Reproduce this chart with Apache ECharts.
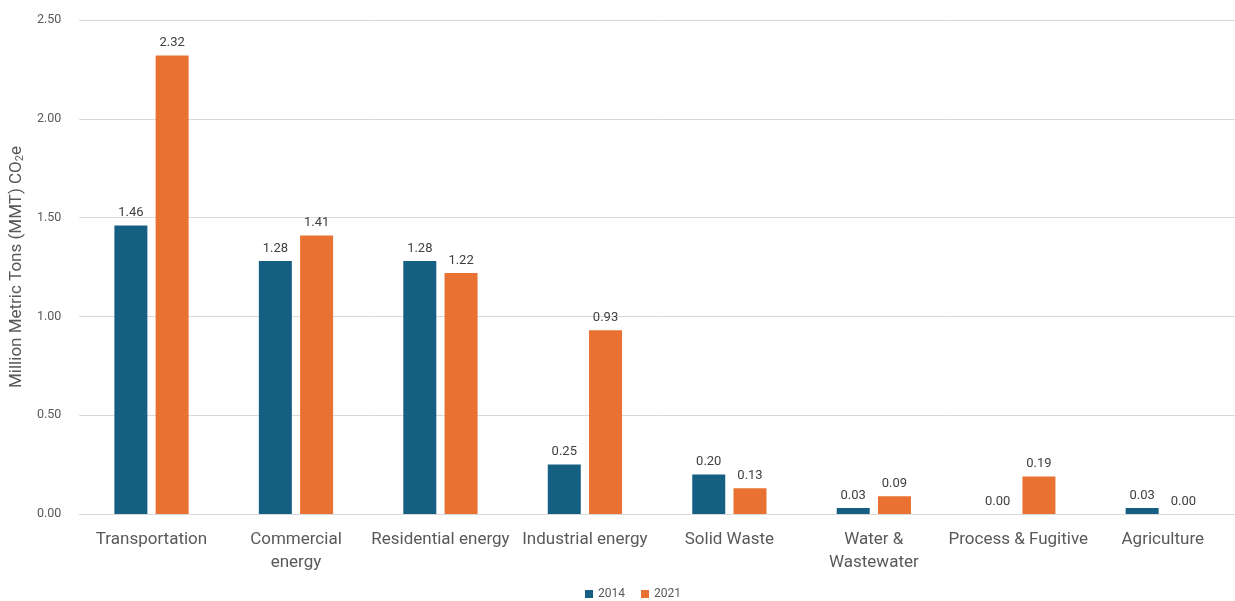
<!DOCTYPE html>
<html><head><meta charset="utf-8">
<script src="https://cdn.jsdelivr.net/npm/echarts@6/dist/echarts.min.js"></script>
<style>html,body{margin:0;padding:0;background:#fff}#c{width:1235px;height:601px}</style>
</head><body><div id="c"></div>
<script>
const categories = ["Transportation","Commercial\nenergy","Residential energy","Industrial energy","Solid Waste","Water &\nWastewater","Process & Fugitive","Agriculture"];
const values2014 = [1.46,1.28,1.28,0.25,0.20,0.03,0.00,0.03];
const values2021 = [2.32,1.41,1.22,0.93,0.13,0.09,0.19,0.00];
const yTicks = {min:0,max:2.5,interval:0.5};
const font = "Roboto, 'Open Sans', sans-serif";
const chart = echarts.init(document.getElementById('c'));
const lbl = {show:true,position:'top',distance:6,color:'#404040',fontSize:13,fontFamily:font,formatter:p=>p.value.toFixed(2)};
chart.setOption({
  animation:false,
  textStyle:{fontFamily:font},
  grid:{left:75,right:-4,top:20,bottom:87,containLabel:false},
  legend:{bottom:-4,left:580,itemWidth:8,itemHeight:8,itemGap:16,icon:'rect',textStyle:{color:'#595959',fontSize:12,fontFamily:font},data:['2014','2021']},
  xAxis:{type:'category',data:categories,axisLine:{lineStyle:{color:'#d9d9d9'}},axisTick:{show:false},
    axisLabel:{color:'#595959',fontSize:17,fontFamily:font,margin:14,lineHeight:23,interval:0}},
  yAxis:{type:'value',min:yTicks.min,max:yTicks.max,interval:yTicks.interval,
    name:'Million Metric Tons (MMT) CO{sub|2}e',nameLocation:'middle',nameGap:50,
    nameTextStyle:{color:'#595959',fontSize:17,fontFamily:font,rich:{sub:{fontSize:11,verticalAlign:'bottom',padding:[8,0,0,0],color:'#595959',fontFamily:font}}},
    axisLabel:{color:'#595959',fontSize:12.5,fontFamily:font,margin:18,formatter:v=>v.toFixed(2)},
    splitLine:{lineStyle:{color:'#d9d9d9'}},axisLine:{show:false},axisTick:{show:false}},
  series:[
    {name:'2014',type:'bar',data:values2014,barWidth:33,barGap:'25%',itemStyle:{color:'#156082'},label:lbl},
    {name:'2021',type:'bar',data:values2021,barWidth:33,barGap:'25%',itemStyle:{color:'#E97132'},label:lbl}
  ]
});
</script></body></html>
